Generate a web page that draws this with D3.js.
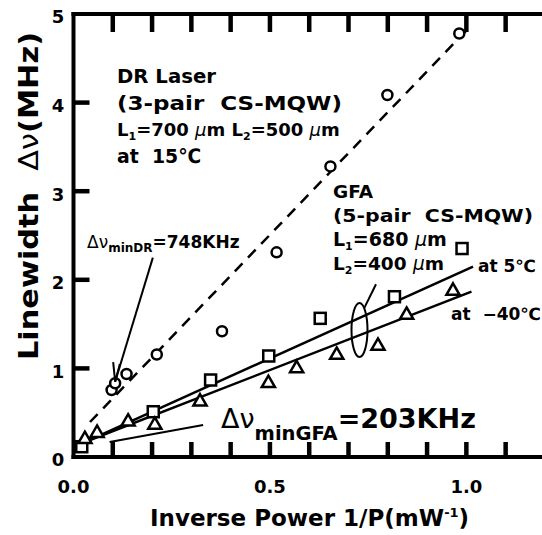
<!DOCTYPE html>
<html>
<head>
<meta charset="utf-8">
<script src="https://cdn.jsdelivr.net/npm/d3@7"></script>
<style>
  body { margin: 0; background: #fff; }
  text { font-family: "DejaVu Sans", sans-serif; font-weight: bold; fill: #000; }
</style>
</head>
<body>
<div id="chart"></div>
<script>
// DR laser (3-pair CS-MQW), 15 C
const drX = [0.097, 0.106, 0.135, 0.212, 0.378, 0.517, 0.654, 0.799, 0.982];
const drY = [0.756, 0.832, 0.937, 1.157, 1.419, 2.31, 3.28, 4.086, 4.78];
// GFA at 5 C (squares)
const gfa5X = [0.021, 0.203, 0.349, 0.497, 0.628, 0.817, 0.989];
const gfa5Y = [0.116, 0.511, 0.869, 1.14, 1.565, 1.809, 2.353];
// GFA at -40 C (triangles)
const gfa40X = [0.029, 0.060, 0.139, 0.207, 0.322, 0.496, 0.568, 0.670, 0.775, 0.848, 0.966];
const gfa40Y = [0.20, 0.27, 0.398, 0.361, 0.624, 0.832, 1.00, 1.151, 1.253, 1.603, 1.874];
// fitted lines, end points
const drFitX = [0.042, 1.011];
const drFitY = [0.395, 4.865];
const gfa5FitX = [0.029, 1.017];
const gfa5FitY = [0.169, 2.148];
const gfa40FitX = [0.029, 1.013];
const gfa40FitY = [0.169, 1.866];

const xTicks = [0.1, 0.2, 0.3, 0.4, 0.5, 0.6, 0.7, 0.8, 0.9, 1.0, 1.1];
const xLabelVals = [0, 0.5, 1.0];
const xLabelText = ["0.0", "0.5", "1.0"];
const yTicks = [1, 2, 3, 4];
const yLabelVals = [0, 1, 2, 3, 4, 5];

const width = 542, height = 535;

const svg = d3.select("#chart")
  .append("svg")
  .attr("width", width)
  .attr("height", height);

const x = d3.scaleLinear().domain([0, 1.19]).range([73.5, 541]);
const y = d3.scaleLinear().domain([0, 5]).range([457, 14]);

// frame: left, bottom, top
const frame = svg.append("g").attr("stroke", "#000").attr("stroke-width", 4).attr("stroke-linecap", "square");
frame.append("line").attr("x1", x(0)).attr("x2", x(0)).attr("y1", y(0)).attr("y2", y(5));
frame.append("line").attr("x1", x(0)).attr("x2", 542).attr("y1", y(0)).attr("y2", y(0));
frame.append("line").attr("x1", x(0)).attr("x2", 542).attr("y1", y(5)).attr("y2", y(5));

// ticks pointing inward
const tickG = svg.append("g");
tickG.selectAll("line.tb")
  .data(xTicks)
  .join("line")
  .attr("class", "tb")
  .attr("x1", (d) => x(d)).attr("x2", (d) => x(d))
  .attr("y1", y(0)).attr("y2", y(0) - 15);
tickG.selectAll("line.tt")
  .data(xTicks)
  .join("line")
  .attr("class", "tt")
  .attr("x1", (d) => x(d)).attr("x2", (d) => x(d))
  .attr("y1", y(5)).attr("y2", y(5) + 18);
tickG.selectAll("line.tl")
  .data(yTicks)
  .join("line")
  .attr("class", "tl")
  .attr("x1", x(0)).attr("x2", x(0) + 16)
  .attr("y1", (d) => y(d)).attr("y2", (d) => y(d));
tickG.selectAll("line")
  .style("stroke", "#000")
  .style("stroke-width", "4.5px");

// tick labels
svg.selectAll(".xlab")
  .data(xLabelVals)
  .join("text")
  .attr("class", "xlab")
  .attr("x", (d) => x(d))
  .attr("y", 493)
  .attr("text-anchor", "middle")
  .style("font-size", "18px")
  .text((d, i) => xLabelText[i]);

svg.selectAll(".ylab")
  .data(yLabelVals)
  .join("text")
  .attr("class", "ylab")
  .attr("x", 58)
  .attr("y", (d) => y(d) + 3)
  .attr("dy", "0.35em")
  .attr("text-anchor", "middle")
  .style("font-size", "18px")
  .text((d) => d);

// axis titles
const xt = svg.append("text")
  .attr("x", 150)
  .attr("y", 526)
  .style("font-size", "23px");
xt.append("tspan").text("Inverse Power 1/P(mW");
xt.append("tspan").attr("dy", -9).style("font-size", "13px").text("-1");
xt.append("tspan").attr("dy", 9).text(")");

const yt = svg.append("text")
  .attr("transform", "translate(38, 360) rotate(-90)")
  .attr("textLength", 328)
  .attr("lengthAdjust", "spacingAndGlyphs")
  .style("font-size", "26px");
yt.append("tspan").text("Linewidth\u00a0\u00a0");
yt.append("tspan").style("font-weight", "normal").text("\u0394\u03bd");
yt.append("tspan").text("(MHz)");

// fit lines
const line = d3.line().x((d) => x(d[0])).y((d) => y(d[1]));
svg.append("path")
  .attr("d", line(d3.zip(drFitX, drFitY)))
  .attr("fill", "none").attr("stroke", "#000").attr("stroke-width", 2.5)
  .attr("stroke-dasharray", "11,8");
svg.append("path")
  .attr("d", line(d3.zip(gfa5FitX, gfa5FitY)))
  .attr("fill", "none").attr("stroke", "#000").attr("stroke-width", 2.5);
svg.append("path")
  .attr("d", line(d3.zip(gfa40FitX, gfa40FitY)))
  .attr("fill", "none").attr("stroke", "#000").attr("stroke-width", 2.5);

// markers
svg.selectAll(".dr")
  .data(d3.zip(drX, drY))
  .join("circle")
  .attr("class", "dr")
  .attr("cx", (d) => x(d[0]))
  .attr("cy", (d) => y(d[1]))
  .attr("r", 5)
  .attr("fill", "#fff").attr("stroke", "#000").attr("stroke-width", 2.5);

svg.selectAll(".sq")
  .data(d3.zip(gfa5X, gfa5Y))
  .join("rect")
  .attr("class", "sq")
  .attr("x", (d) => x(d[0]) - 5.5)
  .attr("y", (d) => y(d[1]) - 5.5)
  .attr("width", 11).attr("height", 11)
  .attr("fill", "#fff").attr("stroke", "#000").attr("stroke-width", 2.5);

const tri = d3.symbol().type(d3.symbolTriangle).size(75);
svg.selectAll(".tri")
  .data(d3.zip(gfa40X, gfa40Y))
  .join("path")
  .attr("class", "tri")
  .attr("d", tri)
  .attr("transform", (d) => `translate(${x(d[0])}, ${y(d[1])})`)
  .attr("fill", "#fff").attr("stroke", "#000").attr("stroke-width", 2.5);

// annotations
const annot = (pts) => svg.append("path")
  .attr("d", line(pts))
  .attr("fill", "none").attr("stroke", "#000").attr("stroke-width", 2);

// dr minimum arrow
annot([[0.202, 2.25], [0.106, 0.85]]);
annot([[0.101, 1.07], [0.106, 0.85], [0.118, 1.05]]);
// gfa minimum pointer
annot([[0.33, 0.36], [0.092, 0.17]]);
// ellipse pointer
annot([[0.74, 1.68], [0.77, 1.95]]);
svg.append("ellipse")
  .attr("cx", x(0.728)).attr("cy", y(1.433))
  .attr("rx", 8).attr("ry", 27)
  .attr("fill", "none").attr("stroke", "#000").attr("stroke-width", 2);

// text lines: single runs may be stretched, runs with sub/superscripts keep their natural width
function label(x0, y0, size, w, parts) {
  const t = svg.append("text")
    .attr("x", x0).attr("y", y0)
    .style("font-size", size + "px");
  if (w) t.attr("textLength", w).attr("lengthAdjust", "spacingAndGlyphs");
  parts.forEach((p) => {
    const s = t.append("tspan").text(p.t);
    if (p.sub) s.style("font-size", Math.round(size * 0.6) + "px").attr("dy", 4);
    if (p.up) s.attr("dy", -4);
    if (p.it) s.style("font-style", "italic").style("font-weight", "normal");
  });
  return t;
}

// DR laser block
label(117, 83, 20, 99, [{ t: "DR Laser" }]);
label(117, 110, 20, 225, [{ t: "(3-pair\u00a0\u00a0CS-MQW)" }]);
label(117, 136, 18, null, [{ t: "L" }, { t: "1", sub: true }, { t: "=700\u00a0", up: true }, { t: "\u03bc", it: true }, { t: "m\u00a0L" }, { t: "2", sub: true }, { t: "=500\u00a0", up: true }, { t: "\u03bc", it: true }, { t: "m" }]);
label(117, 163, 20, 84, [{ t: "at\u00a0\u00a015\u2103" }]);

// GFA block
label(333, 198, 18, 40, [{ t: "GFA" }]);
label(333, 222, 18, 200, [{ t: "(5-pair\u00a0\u00a0CS-MQW)" }]);
label(333, 246, 19, null, [{ t: "L" }, { t: "1", sub: true }, { t: "=680\u00a0", up: true }, { t: "\u03bc", it: true }, { t: "m" }]);
label(333, 270, 18.5, null, [{ t: "L" }, { t: "2", sub: true }, { t: "=400\u00a0", up: true }, { t: "\u03bc", it: true }, { t: "m" }]);

label(478, 272, 17, null, [{ t: "at\u00a05\u2103" }]);
label(451, 320, 17, null, [{ t: "at\u00a0\u00a0\u221240\u2103" }]);

const dr = svg.append("text").attr("x", 87).attr("y", 248).style("font-size", "17px");
dr.append("tspan").style("font-weight", "normal").text("\u0394\u03bd");
dr.append("tspan").attr("dy", 4).style("font-size", "12px").text("minDR");
dr.append("tspan").attr("dy", -4).text("=748KHz");

const gf = svg.append("text").attr("x", 221).attr("y", 428).style("font-size", "27px");
gf.append("tspan").style("font-weight", "normal").text("\u0394\u03bd");
gf.append("tspan").attr("dy", 12).style("font-size", "19.5px").text("minGFA");
gf.append("tspan").attr("dy", -12).text("=203KHz");
</script>
</body>
</html>
